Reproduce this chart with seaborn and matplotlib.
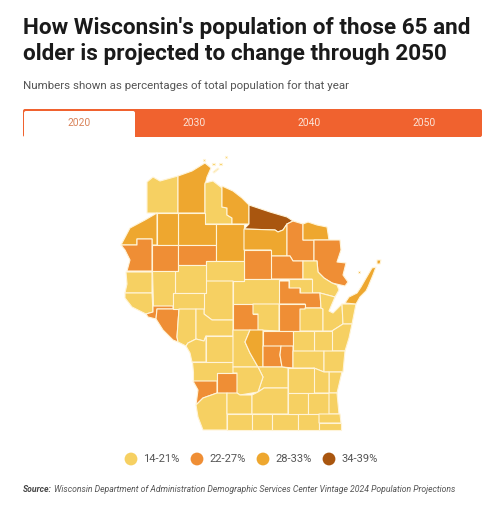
import matplotlib
matplotlib.use("Agg")
import matplotlib.pyplot as plt
from matplotlib.patches import FancyBboxPatch, Rectangle
import pandas as pd
import seaborn as sns

sns.set_theme(style="white")
plt.rcParams['font.family'] = ['Roboto', 'DejaVu Sans']

# Legend bins and colours
bin_labels = ["14-21%", "22-27%", "28-33%", "34-39%"]
bin_colors = ["#F6D062", "#EF8E35", "#EEA72F", "#A9560F"]
tab_labels = ["2020", "2030", "2040", "2050"]

title_lines = ["How Wisconsin's population of those 65 and",
               "older is projected to change through 2050"]
subtitle = "Numbers shown as percentages of total population for that year"
source_head = "Source:"
source_text = "Wisconsin Department of Administration Demographic Services Center Vintage 2024 Population Projections"

# County outlines, in picture units
county_outlines = {
    "Douglas": [(147,182),(153,177),(160,181),(178,176),(178,213),(147,213)],
    "Bayfield": [(178,176),(192,171),(205,163),(211,168),(207,177),(205,185),(205,213),(178,213)],
    "Ashland": [(205,183),(213,181),(222,188),(222,207),(227,208),(227,215),(232,218),(232,224),(205,224)],
    "Iron": [(222,186),(233,191),(242,198),(249,205),(249,224),(232,224),(232,218),(227,215),(227,208),(222,207)],
    "Vilas": [(249,205),(270,212),(287,217),(293,221),(287,224),(283,230),(278,232),(275,230),(244,229),(249,224)],
    "Sawyer": [(178,213),(205,213),(205,224),(216,224),(216,245),(178,245)],
    "Washburn": [(157,213),(178,213),(178,245),(157,245)],
    "Burnett": [(121,245),(130,228),(145,220),(157,213),(157,245),(152,245),(152,239),(137,239),(137,245)],
    "Polk": [(121,245),(137,245),(137,239),(152,239),(152,271),(127,271),(130,260),(125,250)],
    "Barron": [(152,245),(178,245),(178,271),(152,271)],
    "Rusk": [(178,245),(216,245),(216,261),(206,261),(206,265),(178,265)],
    "Price": [(216,224),(244,224),(244,261),(216,261)],
    "Oneida": [(244,229),(275,230),(278,232),(283,230),(287,224),(287,256),(271,256),(271,250),(244,250)],
    "Forest": [(287,224),(293,221),(303,224),(303,240),(314,240),(314,261),(293,261),(290,256),(287,256)],
    "Florence": [(303,224),(308,222),(317,225),(327,227),(329,240),(303,240)],
    "Marinette": [(314,240),(329,240),(340,240),(341,250),(337,262),(346,263),(343,275),(348,282),(345,286),(332,283),(324,278),(318,272),(317,261),(314,261)],
    "Langlade": [(271,256),(290,256),(293,261),(303,261),(303,279),(271,279)],
    "Lincoln": [(244,250),(271,250),(271,279),(244,279)],
    "Oconto": [(303,261),(317,261),(318,272),(324,278),(332,283),(337,285),(339,290),(335,297),(320,293),(312,293),(312,279),(303,279)],
    "Menominee": [(289,279),(312,279),(312,293),(300,293),(300,288),(289,288)],
    "Shawano": [(279,281),(289,281),(289,288),(300,288),(300,293),(320,293),(321,308),(305,308),(305,304),(279,304)],
    "Waupaca": [(279,304),(305,304),(305,309),(300,309),(300,331),(279,331)],
    "Marathon": [(244,279),(279,279),(279,304),(233,304),(233,281),(244,281)],
    "Taylor": [(206,261),(244,261),(244,281),(206,281)],
    "Clark": [(206,281),(233,281),(233,320),(212,320),(204,314),(204,293),(206,293)],
    "Chippewa": [(175,271),(178,271),(178,265),(206,265),(206,293),(175,293)],
    "St. Croix": [(126,272),(152,272),(152,293),(125,293),(127,284)],
    "Pierce": [(125,293),(152,293),(153,312),(146,314),(132,307),(125,298)],
    "Dunn": [(152,271),(175,271),(175,293),(173,293),(173,306),(153,306)],
    "Pepin": [(153,306),(173,306),(173,309),(157,309),(156,319),(148,317),(146,314),(153,312)],
    "Buffalo": [(157,309),(179,309),(177,337),(178,342),(173,340),(163,330),(156,319)],
    "Eau Claire": [(173,293),(204,293),(204,309),(173,309)],
    "Trempealeau": [(179,309),(196,309),(196,339),(188,343),(186,346),(178,342),(177,337)],
    "Jackson": [(196,309),(204,309),(204,314),(212,320),(233,320),(233,336),(206,336),(204,341),(196,339)],
    "Wood": [(233,304),(253,304),(253,314),(258,314),(258,330),(233,330)],
    "Portage": [(253,304),(279,304),(279,331),(258,330),(258,314),(253,314)],
    "Monroe": [(206,336),(233,336),(233,362),(206,362)],
    "La Crosse": [(188,343),(196,339),(204,341),(206,336),(206,362),(192,362),(190,353),(186,346)],
    "Vernon": [(192,362),(233,362),(233,373),(217,373),(217,381),(193,381),(193,372)],
    "Crawford": [(193,381),(217,381),(217,393),(203,398),(196,405),(198,390)],
    "Richland": [(217,373),(237,373),(237,393),(217,393)],
    "Juneau": [(233,330),(250,330),(245,342),(250,353),(258,367),(233,367)],
    "Adams": [(250,330),(263,330),(263,367),(258,367),(250,353),(245,342)],
    "Waushara": [(263,331),(293,331),(293,346),(263,346)],
    "Marquette": [(263,346),(281,346),(280,355),(282,367),(263,367)],
    "Green Lake": [(281,346),(293,346),(293,368),(282,367),(280,355)],
    "Outagamie": [(300,309),(305,309),(305,308),(321,308),(323,309),(323,331),(300,331)],
    "Brown": [(320,293),(335,297),(329,311),(333,313),(342,304),(343,324),(332,331),(323,331),(323,309),(321,308)],
    "Kewaunee": [(342,304),(356,304),(352,324),(343,324)],
    "Door": [(345,303),(349,297),(357,293),(361,287),(365,280),(372,268),(376,267),(373,275),(368,287),(366,291),(360,297),(356,304)],
    "Washington Is.": [(377,260),(381,260),(380,264),(377,264)],
    "Plum Is.": [(358,271),(360,271),(360,273),(358,273)],
    "Manitowoc": [(332,331),(343,324),(352,324),(349,338),(345,351),(332,351)],
    "Calumet": [(314,331),(332,331),(332,351),(314,351)],
    "Winnebago": [(293,331),(314,331),(314,351),(293,351)],
    "Fond du Lac": [(293,351),(324,351),(324,372),(314,368),(293,368)],
    "Sheboygan": [(324,351),(345,351),(343,372),(324,372)],
    "Ozaukee": [(329,372),(342,372),(337,393),(329,393)],
    "Washington": [(314,368),(324,372),(329,372),(329,393),(314,393)],
    "Dodge": [(288,368),(314,368),(314,393),(288,393)],
    "Columbia": [(258,367),(282,367),(288,368),(288,388),(264,388),(258,392),(263,377)],
    "Sauk": [(233,367),(258,367),(263,377),(258,392),(240,395),(237,393),(237,373),(233,373)],
    "Grant": [(196,405),(203,398),(217,393),(227,393),(227,430),(203,430),(198,417)],
    "Iowa": [(227,393),(237,393),(240,395),(252,395),(252,414),(227,414)],
    "Lafayette": [(227,414),(252,414),(252,430),(227,430)],
    "Dane": [(264,388),(288,388),(288,414),(252,414),(252,395),(258,392)],
    "Green": [(252,414),(272,414),(272,430),(252,430)],
    "Rock": [(272,414),(298,414),(298,430),(272,430)],
    "Jefferson": [(288,393),(308,393),(308,414),(288,414)],
    "Waukesha": [(308,393),(329,393),(329,414),(308,414)],
    "Milwaukee": [(329,393),(337,393),(339,414),(329,414)],
    "Walworth": [(298,414),(319,414),(319,430),(298,430)],
    "Racine": [(319,414),(340,414),(341,423),(319,423)],
    "Kenosha": [(319,423),(341,423),(341,430),(319,430)],
    "Apostle 1": [(203,159),(205,159),(205,161),(203,161)],
    "Apostle 2": [(212,163),(215,163),(215,165),(212,165)],
    "Apostle 3": [(219,163),(222,163),(222,165),(219,165)],
    "Apostle 4": [(225,156),(227,156),(227,158),(225,158)],
    "Madeline Is.": [(213,172),(218,168),(219,169),(214,173)],
}

# Which bin each county falls in for 2020 (index into bin_labels)
mid_counties = ["Polk", "Barron", "Rusk", "Forest", "Marinette", "Langlade", "Lincoln",
                "Shawano", "Waupaca", "Wood", "Buffalo", "Pepin", "Waushara",
                "Marquette", "Green Lake", "Crawford", "Richland"]
high_counties = ["Bayfield", "Iron", "Sawyer", "Washburn", "Burnett", "Price", "Oneida",
                 "Florence", "Adams", "Door", "Washington Is.", "Plum Is."]
top_counties = ["Vilas"]

county_bin = {}
for name in county_outlines:
    county_bin[name] = 0
for name in mid_counties:
    county_bin[name] = 1
for name in high_counties:
    county_bin[name] = 2
for name in top_counties:
    county_bin[name] = 3

fig = plt.figure(figsize=(5.04, 5.2), dpi=100)
ax = fig.add_axes([0, 0, 1, 1])
ax.set_xlim(0, 504)
ax.set_ylim(520, 0)
ax.axis("off")

# Title block
ax.text(23, 28, title_lines[0], fontsize=16.2, fontweight="bold", color="#1a1a1a", va="center")
ax.text(23, 54, title_lines[1], fontsize=16.2, fontweight="bold", color="#1a1a1a", va="center")
ax.text(23, 86, subtitle, fontsize=8.25, color="#555555", va="center")

# Year tabs
ax.add_patch(FancyBboxPatch((23, 109), 459, 28, boxstyle="round,pad=0,rounding_size=2",
                            fc="#F0622F", ec="none"))
ax.add_patch(FancyBboxPatch((24, 111), 111, 30, boxstyle="round,pad=0,rounding_size=2",
                            fc="white", ec="none"))
ax.add_patch(Rectangle((0, 137), 504, 8, fc="white", ec="none"))
tab_x = [79, 194, 309, 424]
for i, label in enumerate(tab_labels):
    ax.text(tab_x[i], 123, label, fontsize=7.4, va="center", ha="center",
            color="#D9835A" if i == 0 else "#FBE3D6")

# Counties
for name, outline in county_outlines.items():
    xs, ys = zip(*outline)
    ax.fill(xs, ys, fc=bin_colors[county_bin[name]], ec="#FFF4D8", lw=0.8, joinstyle="round")

# Legend dots through seaborn
legend_df = pd.DataFrame({"x": [131, 197, 263, 329], "y": [459] * 4, "label": bin_labels})
sns.scatterplot(data=legend_df, x="x", y="y", hue="label", palette=bin_colors, s=85,
                edgecolor="none", legend=False, ax=ax, clip_on=False)
ax.set_xlim(0, 504)
ax.set_ylim(520, 0)
ax.axis("off")
for x, label in zip(legend_df["x"], bin_labels):
    ax.text(x + 12, 459, label, fontsize=8, color="#555555", va="center")

# Source line
ax.text(23, 489, source_head, fontsize=6.2, fontweight="bold", style="italic", color="#444444", va="center")
ax.text(54, 489, source_text, fontsize=6.2, style="italic", color="#555555", va="center")

fig.savefig("out.png", dpi=100)
